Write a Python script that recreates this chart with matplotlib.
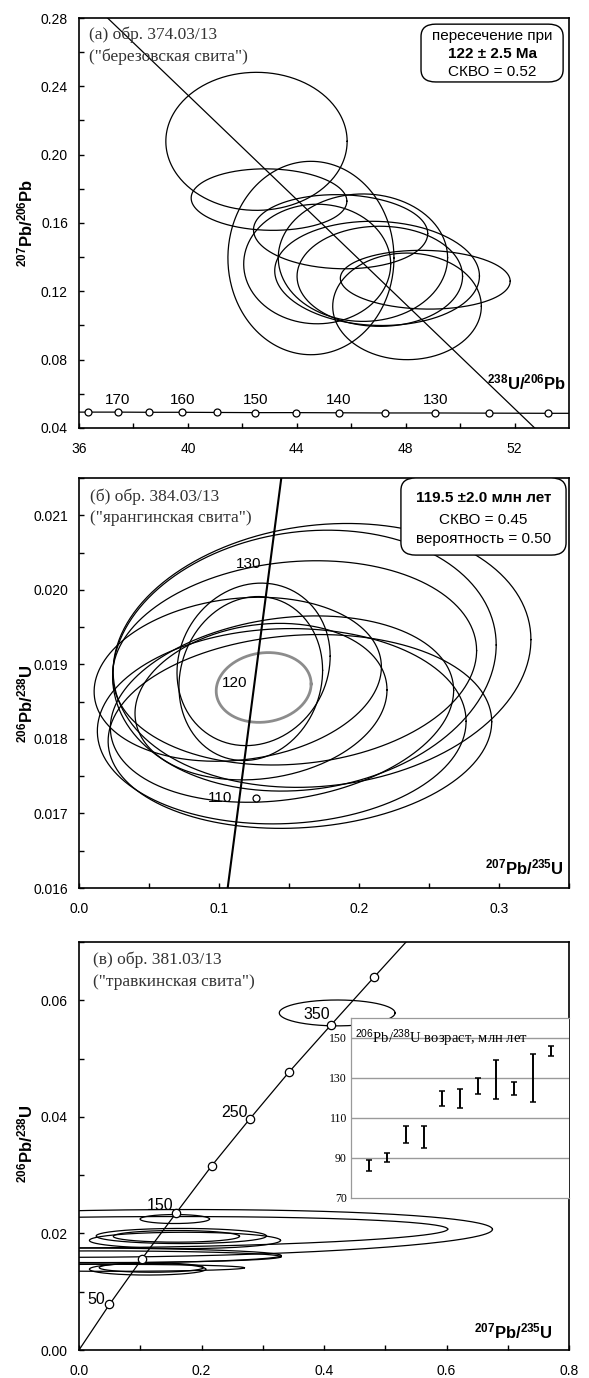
import numpy as np
import matplotlib.pyplot as plt
from matplotlib.patches import FancyBboxPatch

plt.rcParams['font.family'] = ['Liberation Sans', 'DejaVu Sans']
plt.rcParams['mathtext.fontset'] = 'custom'
plt.rcParams['mathtext.rm'] = 'Liberation Sans'
plt.rcParams['mathtext.bf'] = 'Liberation Sans:bold'
plt.rcParams['mathtext.it'] = 'Liberation Sans:italic'

# ---- panel (a): Tera-Wasserburg, 238U/206Pb vs 207Pb/206Pb ----
a_cx = [42.52, 42.98, 44.52, 45.61, 44.75, 46.43, 46.95, 47.05, 48.72, 48.05]
a_sx = [3.33, 2.86, 3.05, 3.20, 2.70, 3.11, 3.76, 3.04, 3.12, 2.73]
a_cy = [0.2078, 0.1737, 0.1395, 0.1549, 0.1360, 0.1397, 0.1305, 0.1288, 0.1268, 0.1112]
a_sy = [0.0404, 0.0180, 0.0566, 0.0217, 0.0350, 0.0373, 0.0305, 0.0293, 0.0172, 0.0312]
a_rho = [0.0, -0.05, 0.0, -0.05, 0.0, 0.0, -0.05, 0.0, -0.05, 0.0]
a_disc_x = [37.05, 52.74]
a_disc_y = [0.28, 0.04]
a_conc_x = [36.33, 37.42, 38.57, 39.80, 41.08, 42.48, 43.96, 45.54, 47.24, 49.09, 51.06, 53.23]
a_conc_y = [0.0493, 0.0493, 0.0492, 0.0492, 0.0491, 0.0490, 0.0490, 0.0489, 0.0488, 0.0488, 0.0487, 0.0486]
a_age_lbl = ['170', '160', '150', '140', '130']
a_age_x = [37.42, 39.80, 42.48, 45.54, 49.09]

# ---- panel (b): Wetherill concordia ----
b_cx = [0.1736, 0.1610, 0.1540, 0.1247, 0.1227, 0.1134, 0.1448, 0.1450, 0.1578, 0.1300]
b_sx = [0.1492, 0.1370, 0.1300, 0.0547, 0.0513, 0.1026, 0.1317, 0.1226, 0.1370, 0.0900]
b_cy = [0.01912, 0.01905, 0.01902, 0.01900, 0.01881, 0.01880, 0.01817, 0.01840, 0.01810, 0.01850]
b_sy = [0.00177, 0.00175, 0.00137, 0.00109, 0.00110, 0.00110, 0.00131, 0.00125, 0.00130, 0.00105]
b_rho = [0.12, 0.12, 0.12, 0.1, 0.1, 0.15, 0.05, 0.2, 0.1, 0.15]
b_mean = (0.1319, 0.0339, 0.01869, 0.000468, 0.1)
b_conc_x = [0.1062, 0.1445]
b_conc_y = [0.016, 0.0215]
b_age_lbl = ['110', '120', '130']
b_age_x = [0.1008, 0.1115, 0.1214]
b_age_y = [0.01721, 0.01875, 0.02035]
b_point = (0.1263, 0.017205)

# ---- panel (c): Wetherill concordia ----
c_cx = [0.4215, 0.1564, 0.0800, 0.0500, 0.167, 0.159, 0.173, 0.112, 0.118, -0.02, 0.03, 0.05]
c_sx = [0.0945, 0.0567, 0.595, 0.552, 0.139, 0.103, 0.156, 0.095, 0.085, 0.35, 0.30, 0.22]
c_cy = [0.05783, 0.02247, 0.0200, 0.0202, 0.01956, 0.0195, 0.0188, 0.01386, 0.01414, 0.0162, 0.0160, 0.0141]
c_sy = [0.00222, 0.00077, 0.0041, 0.0027, 0.0013, 0.0010, 0.0014, 0.0010, 0.0008, 0.0013, 0.0010, 0.0006]
c_rho = [0.0, 0.0, 0.17, 0.2, 0.0, 0.0, 0.0, 0.0, 0.0, 0.0, 0.0, 0.0]
c_conc_x = [0.0, 0.0497, 0.103, 0.159, 0.217, 0.2785, 0.343, 0.4117, 0.482, 0.534]
c_conc_y = [0.0, 0.00781, 0.01568, 0.02356, 0.03165, 0.0396, 0.0477, 0.0558, 0.0640, 0.070]
c_age_lbl = ['50', '150', '250', '350']
c_age_x = [0.028, 0.1325, 0.2534, 0.389]
c_age_y = [0.00873, 0.0248, 0.04067, 0.0576]

# inset: 206Pb/238U ages
ins_lo = [83.7, 87.9, 97.3, 95.0, 116.0, 115.2, 122.2, 119.4, 121.5, 118.0, 141.2]
ins_hi = [89.2, 92.4, 105.8, 106.1, 123.5, 124.3, 129.8, 138.9, 128.0, 142.2, 145.9]


def ellipse(ax, cx, sx, cy, sy, rho, **kw):
    t = np.linspace(0, 2 * np.pi, 300)
    x = cx + sx * np.cos(t)
    y = cy + sy * (rho * np.cos(t) + np.sqrt(1 - rho ** 2) * np.sin(t))
    ax.plot(x, y, **kw)


def style(ax, xt, xl, yt, yl):
    ax.set_xticks(xt)
    ax.set_xticklabels(xl)
    ax.set_yticks(yt)
    ax.set_yticklabels(yl)
    ax.tick_params(direction='in', length=3.5, width=1, labelsize=10, pad=8)
    ax.tick_params(axis='x', pad=10)
    for s in ax.spines.values():
        s.set_linewidth(1.2)


def rbox(ax, x0, y0, x1, y1, lines, weights, ys, size=11):
    ax.add_patch(FancyBboxPatch((x0, y0), x1 - x0, y1 - y0,
                                boxstyle='round,pad=0,rounding_size=0.03',
                                transform=ax.transAxes, fc='white', ec='black', lw=1, zorder=5))
    for s, w, y in zip(lines, weights, ys):
        ax.text((x0 + x1) / 2, y, s, transform=ax.transAxes, ha='center', va='center',
                fontsize=size, fontweight=w, zorder=6)


serif = ['Liberation Serif', 'DejaVu Serif']
ylab_a = r'$^{\mathbf{207}}$Pb/$^{\mathbf{206}}$Pb'
ylab_b = r'$^{\mathbf{206}}$Pb/$^{\mathbf{238}}$U'
xlab_b = r'$^{\mathbf{207}}$Pb/$^{\mathbf{235}}$U'
ann = dict(ha='left', va='center', fontsize=12.5, family=serif, color='#333333')

fig = plt.figure(figsize=(5.89, 13.78), dpi=100)
L, W = 79 / 589, 490 / 589

# ---------- (a) ----------
ax = fig.add_axes([L, 1 - 428 / 1378, W, 410 / 1378])
for p in zip(a_cx, a_sx, a_cy, a_sy, a_rho):
    ellipse(ax, *p, color='black', lw=0.9)
ax.plot(a_disc_x, a_disc_y, color='black', lw=0.9)
ax.plot([36] + a_conc_x + [54], [a_conc_y[0]] + a_conc_y + [a_conc_y[-1]], color='black', lw=0.9)
ax.plot(a_conc_x, a_conc_y, 'o', ms=5, mfc='white', mec='black', mew=0.9)
for s, x in zip(a_age_lbl, a_age_x):
    ax.text(x, 0.0565, s, ha='center', va='center', fontsize=11)
ax.set_xlim(36, 54)
ax.set_ylim(0.04, 0.28)
style(ax, np.arange(36, 54, 2), ['36', '', '40', '', '44', '', '48', '', '52'],
      np.arange(0.04, 0.2801, 0.02),
      ['0.04', '', '0.08', '', '0.12', '', '0.16', '', '0.20', '', '0.24', '', '0.28'])
ax.set_ylabel(ylab_a, fontsize=12, fontweight='bold')
ax.yaxis.set_label_coords(-0.088, 0.5)
ax.text(0.994, 0.11, r'$^{\mathbf{238}}$U/$^{\mathbf{206}}$Pb', transform=ax.transAxes,
        ha='right', va='center', fontsize=12, fontweight='bold')
ax.text(0.021, 0.959, '(а) обр. 374.03/13', transform=ax.transAxes, **ann)
ax.text(0.021, 0.905, '("березовская свита")', transform=ax.transAxes, **ann)
rbox(ax, 0.698, 0.844, 0.988, 0.985, ['пересечение при', '122 ± 2.5 Ma', 'СКВО = 0.52'],
     ['normal', 'bold', 'normal'], [0.957, 0.913, 0.868])

# ---------- (b) ----------
ax = fig.add_axes([L, 1 - 888 / 1378, W, 410 / 1378])
for p in zip(b_cx, b_sx, b_cy, b_sy, b_rho):
    ellipse(ax, *p, color='black', lw=0.9)
ellipse(ax, *b_mean, color='#8c8c8c', lw=2)
ax.plot(b_conc_x, b_conc_y, color='black', lw=1.5)
ax.plot(*b_point, 'o', ms=5, mfc='white', mec='black', mew=0.9)
for s, x, y in zip(b_age_lbl, b_age_x, b_age_y):
    ax.text(x, y, s, ha='center', va='center', fontsize=11)
ax.set_xlim(0, 0.35)
ax.set_ylim(0.016, 0.0215)
style(ax, np.arange(0, 0.351, 0.05), ['0.0', '', '0.1', '', '0.2', '', '0.3', ''],
      np.arange(0.016, 0.02151, 0.0005),
      ['0.016', '', '0.017', '', '0.018', '', '0.019', '', '0.020', '', '0.021', ''])
ax.set_ylabel(ylab_b, fontsize=12, fontweight='bold')
ax.yaxis.set_label_coords(-0.088, 0.45)
ax.text(0.99, 0.05, xlab_b, transform=ax.transAxes, ha='right', va='center',
        fontsize=12, fontweight='bold')
ax.text(0.023, 0.954, '(б) обр. 384.03/13', transform=ax.transAxes, **ann)
ax.text(0.023, 0.903, '("ярангинская свита")', transform=ax.transAxes, **ann)
rbox(ax, 0.657, 0.812, 0.994, 1.0, ['119.5 ±2.0 млн лет', 'СКВО = 0.45', 'вероятность = 0.50'],
     ['bold', 'normal', 'normal'], [0.950, 0.898, 0.852])

# ---------- (c) ----------
ax = fig.add_axes([L, 1 - 1350 / 1378, W, 408 / 1378])
for p in zip(c_cx, c_sx, c_cy, c_sy, c_rho):
    ellipse(ax, *p, color='black', lw=0.9)
ax.plot(c_conc_x, c_conc_y, color='black', lw=0.9)
ax.plot(c_conc_x[1:-1], c_conc_y[1:-1], 'o', ms=6, mfc='white', mec='black', mew=0.9)
for s, x, y in zip(c_age_lbl, c_age_x, c_age_y):
    ax.text(x, y, s, ha='center', va='center', fontsize=11.5)
ax.set_xlim(0, 0.8)
ax.set_ylim(0, 0.07)
style(ax, np.arange(0, 0.81, 0.1), ['0.0', '', '0.2', '', '0.4', '', '0.6', '', '0.8'],
      np.arange(0, 0.0701, 0.01), ['0.00', '', '0.02', '', '0.04', '', '0.06', ''])
ax.set_ylabel(ylab_b, fontsize=12, fontweight='bold')
ax.yaxis.set_label_coords(-0.088, 0.507)
ax.text(0.967, 0.045, xlab_b, transform=ax.transAxes, ha='right', va='center',
        fontsize=12, fontweight='bold')
ax.text(0.028, 0.956, '(в) обр. 381.03/13', transform=ax.transAxes, **ann)
ax.text(0.028, 0.902, '("травкинская свита")', transform=ax.transAxes, **ann)

# inset
ins = fig.add_axes([351 / 589, 1 - 1198 / 1378, 218 / 589, 180 / 1378])
idx = np.arange(1, len(ins_lo) + 1)
mid = [(l + h) / 2 for l, h in zip(ins_lo, ins_hi)]
half = [(h - l) / 2 for l, h in zip(ins_lo, ins_hi)]
ins.errorbar(idx, mid, yerr=half, fmt='none', ecolor='black', elinewidth=1.4,
             capsize=2.5, capthick=1.1)
ins.set_xlim(0, 12)
ins.set_ylim(70, 160)
ins.set_xticks([])
ins.set_yticks([70, 90, 110, 130, 150])
ins.set_yticklabels(['70', '90', '110', '130', '150'], family=serif, fontsize=8.5)
ins.tick_params(length=0, pad=3)
for v in [90, 110, 130, 150]:
    ins.axhline(v, color='#9a9a9a', lw=1, zorder=0)
for s in ins.spines.values():
    s.set_color('#9a9a9a')
    s.set_linewidth(0.9)
ins.spines['right'].set_visible(False)
ins.text(0.02, 0.89, r'$^{206}$Pb/$^{238}$U возраст, млн лет', transform=ins.transAxes,
         ha='left', va='center', fontsize=10.5, family=serif)

fig.savefig('out.png', dpi=100)
